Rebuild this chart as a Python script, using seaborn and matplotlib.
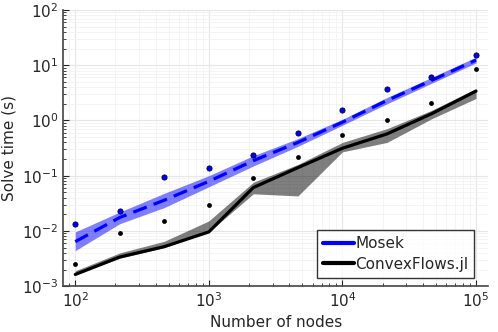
import numpy as np
import pandas as pd
import matplotlib
matplotlib.use('Agg')
import matplotlib.pyplot as plt
import seaborn as sns

nodes = [100, 215, 464, 1000, 2154, 4642, 10000, 21544, 46416, 100000]

mosek_pts = [0.0132, 0.023, 0.096, 0.136, 0.24, 0.6, 1.52, 3.66, 6.1, 15.6]
mosek_mid = [0.0064, 0.0175, 0.036, 0.079, 0.187, 0.40, 0.93, 2.3, 5.3, 12.4]
mosek_lo = [0.0044, 0.0135, 0.0265, 0.063, 0.15, 0.34, 0.82, 2.0, 4.7, 11.0]
mosek_hi = [0.0096, 0.022, 0.048, 0.10, 0.23, 0.47, 1.05, 2.6, 6.0, 14.0]

cf_pts = [0.00248, 0.0093, 0.015, 0.029, 0.0895, 0.219, 0.55, 1.03, 2.07, 8.7]
cf_mid = [0.00163, 0.00337, 0.0052, 0.0096, 0.061, 0.14, 0.314, 0.57, 1.32, 3.4]
cf_lo = [0.0016, 0.0032, 0.005, 0.0096, 0.047, 0.043, 0.27, 0.40, 1.07, 2.5]
cf_hi = [0.0019, 0.004, 0.0065, 0.0152, 0.076, 0.16, 0.40, 0.71, 1.52, 3.77]

df_m = pd.DataFrame({'n': nodes, 't': mosek_mid, 'p': mosek_pts})
df_c = pd.DataFrame({'n': nodes, 't': cf_mid, 'p': cf_pts})

sns.set_style('white')
fig, ax = plt.subplots(figsize=(4.98, 3.32), dpi=100)
fig.subplots_adjust(left=0.127, right=0.98, top=0.97, bottom=0.138)

ax.fill_between(nodes, mosek_lo, mosek_hi, color='blue', alpha=0.5, lw=0)
ax.fill_between(nodes, cf_lo, cf_hi, color='black', alpha=0.5, lw=0)
sns.lineplot(data=df_m, x='n', y='t', ax=ax, color='blue', lw=2.3, linestyle=(0, (4.5, 2.3)), label='Mosek')
sns.lineplot(data=df_c, x='n', y='t', ax=ax, color='black', lw=2.3, label='ConvexFlows.jl')
sns.scatterplot(data=df_m, x='n', y='p', ax=ax, color='blue', edgecolor='#000033', s=14, linewidth=0.6, legend=False, zorder=5)
sns.scatterplot(data=df_c, x='n', y='p', ax=ax, color='black', s=12, linewidth=0, legend=False, zorder=5)

ax.set_xscale('log')
ax.set_yscale('log')
ax.set_xlim(10**1.91, 10**5.09)
ax.set_ylim(1e-3, 1e2)
ax.set_xticks([1e2, 1e3, 1e4, 1e5])
ax.set_yticks([1e-3, 1e-2, 1e-1, 1e0, 1e1, 1e2])
ax.grid(True, which='major', color='#e6e6e6', lw=0.8)
ax.grid(True, which='minor', color='#f2f2f2', lw=0.6)
ax.tick_params(which='both', direction='in', labelsize=11, left=True, bottom=True)
ax.tick_params(which='major', length=4)
ax.tick_params(which='minor', length=2)
for s in ['top', 'right']:
    ax.spines[s].set_visible(False)
for s in ['left', 'bottom']:
    ax.spines[s].set_color('#444444')
    ax.spines[s].set_linewidth(1.2)

ax.set_xlabel('Number of nodes', fontsize=11)
ax.set_ylabel('Solve time (s)', fontsize=11)

leg = ax.legend(loc='lower right', bbox_to_anchor=(0.968, 0.03), fontsize=11,
                frameon=True, fancybox=False, edgecolor='black',
                handlelength=2.0, handletextpad=0.1, borderpad=0.4,
                labelspacing=0.35, borderaxespad=0.0)
leg.get_frame().set_linewidth(1.0)
for h in leg.get_lines():
    h.set_linestyle('-')
    h.set_linewidth(3)

plt.savefig('out.png', dpi=100)
